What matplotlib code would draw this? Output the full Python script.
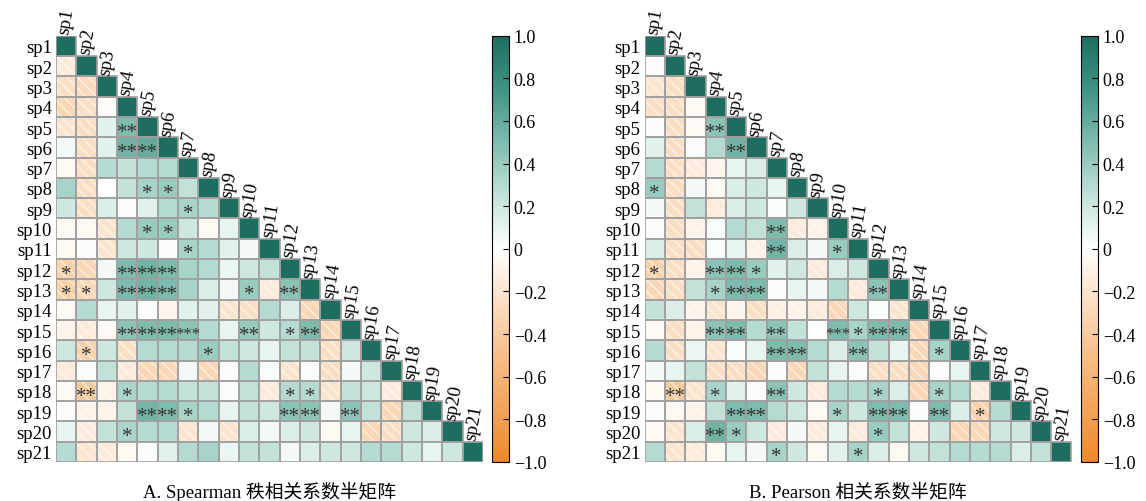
import numpy as np
import matplotlib.pyplot as plt
from matplotlib.colors import LinearSegmentedColormap, Normalize
from matplotlib.patches import Rectangle
from matplotlib.cm import ScalarMappable
from matplotlib.ticker import FuncFormatter

plt.rcParams['font.family'] = ['Liberation Serif', 'Noto Sans CJK SC']
plt.rcParams['hatch.linewidth'] = 1.0

species = ['sp%d' % i for i in range(1, 22)]

# lower triangle, row sp2..sp21, columns sp1..sp(i-1)
spearman_r = [
    [-0.15],
    [-0.25, -0.28],
    [-0.3, -0.25, -0.03],
    [-0.2, -0.25, 0.12, 0.5],
    [0.05, -0.25, 0.12, 0.55, 0.6],
    [-0.05, -0.25, 0.3, 0.25, 0.3, 0.3],
    [0.35, -0.25, 0.0, 0.25, 0.35, 0.4, 0.25],
    [0.2, -0.25, 0.15, 0.02, 0.12, 0.3, 0.35, 0.3],
    [-0.05, -0.05, -0.2, 0.3, 0.4, 0.4, 0.2, -0.05, 0.1],
    [-0.05, 0.02, -0.2, 0.2, 0.2, 0.02, 0.35, 0.3, 0.12, 0.05],
    [-0.35, -0.3, 0.05, 0.5, 0.55, 0.5, 0.35, 0.3, 0.08, 0.2, 0.25],
    [-0.35, -0.3, 0.2, 0.5, 0.55, 0.5, 0.35, 0.15, 0.05, 0.4, -0.15, 0.45],
    [-0.05, 0.3, 0.1, 0.12, 0.02, -0.08, 0.12, 0.12, -0.2, -0.25, 0.3, 0.15, -0.3],
    [-0.1, -0.15, -0.05, 0.45, 0.5, 0.5, 0.45, 0.3, 0.1, 0.4, 0.2, 0.3, 0.5, -0.3],
    [0.2, -0.35, 0.2, -0.25, 0.3, 0.3, 0.3, 0.4, 0.25, 0.2, 0.1, 0.25, 0.25, -0.25, 0.2],
    [-0.15, 0.03, 0.25, -0.15, -0.3, -0.3, 0.05, -0.3, 0.02, 0.3, 0.03, -0.2, 0.02, -0.25, 0.05, 0.2],
    [-0.05, -0.4, -0.1, 0.35, 0.3, 0.3, 0.25, 0.25, 0.02, 0.25, -0.15, 0.3, 0.3, -0.2, 0.25, 0.2, -0.15],
    [0.02, -0.1, -0.1, 0.25, 0.55, 0.5, 0.35, 0.3, 0.1, 0.25, 0.2, 0.45, 0.45, 0.05, 0.45, 0.25, -0.3, 0.25],
    [0.1, -0.15, 0.25, 0.35, 0.3, 0.3, -0.2, 0.05, -0.2, 0.15, 0.05, 0.15, 0.2, -0.05, 0.1, -0.3, -0.25, 0.2, 0.15],
    [0.3, -0.2, -0.15, -0.05, 0.02, 0.12, 0.3, 0.35, 0.08, 0.25, 0.25, 0.05, 0.15, 0.2, 0.2, 0.3, 0.3, 0.2, 0.1, 0.2],
]

# significance stars: (row, col, count), 1-based species numbers
spearman_sig = [
    (5, 4, 2), (6, 4, 2), (6, 5, 2), (8, 5, 1), (8, 6, 1), (9, 7, 1),
    (10, 5, 1), (10, 6, 1), (11, 7, 1),
    (12, 1, 1), (12, 4, 2), (12, 5, 2), (12, 6, 2),
    (13, 1, 1), (13, 2, 1), (13, 4, 2), (13, 5, 2), (13, 6, 2), (13, 10, 1), (13, 12, 2),
    (15, 4, 2), (15, 5, 2), (15, 6, 2), (15, 7, 3), (15, 10, 2), (15, 12, 1), (15, 13, 2),
    (16, 2, 1), (16, 8, 1),
    (18, 2, 2), (18, 4, 1), (18, 12, 1), (18, 13, 1),
    (19, 5, 2), (19, 6, 2), (19, 7, 1), (19, 12, 2), (19, 13, 2), (19, 15, 2),
    (20, 4, 1),
]

pearson_r = [
    [0.02],
    [-0.2, -0.25],
    [-0.25, -0.25, -0.05],
    [0.02, -0.25, -0.05, 0.45],
    [0.12, -0.25, 0.02, 0.3, 0.55],
    [0.3, -0.25, -0.15, -0.08, 0.1, 0.15],
    [0.4, -0.25, 0.05, -0.05, 0.15, 0.2, 0.1],
    [0.05, -0.25, 0.25, -0.15, 0.15, 0.2, 0.03, 0.2],
    [0.02, -0.25, -0.1, 0.03, 0.3, 0.25, 0.5, -0.15, -0.1],
    [0.15, -0.25, -0.25, 0.03, 0.1, -0.1, 0.55, 0.15, 0.05, 0.4],
    [-0.35, -0.25, -0.1, 0.45, 0.5, 0.4, 0.12, 0.2, -0.15, 0.15, 0.2],
    [-0.3, -0.25, 0.25, 0.35, 0.5, 0.5, 0.02, 0.1, 0.05, 0.3, -0.15, 0.45],
    [0.25, 0.15, -0.1, -0.2, -0.08, -0.25, -0.12, -0.1, -0.15, -0.3, 0.2, 0.03, -0.2],
    [-0.05, -0.25, -0.1, 0.45, 0.5, 0.3, 0.45, 0.25, 0.0, 0.5, 0.35, 0.5, 0.5, -0.3],
    [0.3, -0.25, 0.08, -0.2, 0.03, 0.1, 0.5, 0.5, 0.3, 0.15, 0.45, 0.25, 0.1, -0.3, 0.35],
    [0.05, 0.1, 0.25, -0.25, -0.25, -0.3, 0.02, -0.3, 0.25, 0.1, 0.02, -0.25, -0.25, -0.3, 0.02, 0.1],
    [-0.05, -0.4, -0.2, 0.35, 0.12, 0.02, 0.45, 0.2, -0.15, 0.3, 0.3, 0.35, 0.15, -0.3, 0.35, 0.3, -0.15],
    [0.02, -0.05, -0.1, 0.25, 0.5, 0.5, 0.3, 0.2, -0.05, 0.35, 0.2, 0.5, 0.5, 0.02, 0.5, 0.15, -0.35, 0.3],
    [-0.05, -0.2, 0.15, 0.55, 0.4, 0.2, -0.15, 0.05, -0.15, 0.1, -0.15, 0.4, 0.25, -0.1, 0.2, -0.3, -0.3, 0.2, 0.2],
    [0.3, -0.2, -0.15, -0.05, 0.1, 0.05, 0.35, 0.2, -0.05, 0.12, 0.35, 0.15, -0.05, 0.2, 0.25, 0.3, 0.3, 0.3, 0.15, 0.25],
]

pearson_sig = [
    (5, 4, 2), (6, 5, 2), (8, 1, 1), (10, 7, 2), (11, 7, 2), (11, 10, 1),
    (12, 1, 1), (12, 4, 2), (12, 5, 2), (12, 6, 1),
    (13, 4, 1), (13, 5, 2), (13, 6, 2), (13, 12, 2),
    (15, 4, 2), (15, 5, 2), (15, 7, 2), (15, 10, 3), (15, 11, 1), (15, 12, 2), (15, 13, 2),
    (16, 7, 2), (16, 8, 2), (16, 11, 2), (16, 15, 1),
    (18, 2, 2), (18, 4, 1), (18, 7, 2), (18, 12, 1), (18, 15, 1),
    (19, 5, 2), (19, 6, 2), (19, 10, 1), (19, 12, 2), (19, 13, 2), (19, 15, 2), (19, 17, 1),
    (20, 4, 2), (20, 5, 1), (20, 12, 1),
    (21, 7, 1), (21, 11, 1),
]

titles = ['A. Spearman 秩相关系数半矩阵', 'B. Pearson 相关系数半矩阵']

cmap = LinearSegmentedColormap.from_list('og', [
    (0.0, '#EE892C'), (0.25, '#F6BF88'), (0.5, '#FFFFFF'),
    (0.625, '#C2E2DA'), (0.75, '#7FBCAF'), (0.875, '#3F9483'), (1.0, '#1D6E5E')])
norm = Normalize(-1, 1)
grid_col = '#A0A0A0'


def draw_panel(ax, cax, rows, sig, title):
    n = len(species)
    ax.set_xlim(-0.5, n - 0.5)
    ax.set_ylim(n - 0.5, -0.5)
    cells = [(i, i, 1.0) for i in range(n)]
    for i, row in enumerate(rows, start=1):
        for j, v in enumerate(row):
            cells.append((i, j, v))
    for i, j, v in cells:
        ax.add_patch(Rectangle((j - 0.5, i - 0.5), 1, 1, facecolor=cmap(norm(v)),
                               edgecolor='none', zorder=1))
        if v < 0:
            ax.add_patch(Rectangle((j - 0.5, i - 0.5), 1, 1, fill=False, hatch='\\\\\\',
                                   edgecolor=(1, 1, 1, 0.55), linewidth=0, zorder=2))
        ax.add_patch(Rectangle((j - 0.5, i - 0.5), 1, 1, fill=False,
                               edgecolor=grid_col, linewidth=1.2, zorder=3))
    for r, c, k in sig:
        fs = 15 if k < 3 else 12
        ax.text(c - 1, r - 1 + (0.25 if k < 3 else 0.2), '*' * k, ha='center', va='center',
                fontsize=fs, color='#333333', zorder=4)
    for j in range(n):
        ax.text(j - 0.1, j - 0.6, species[j], rotation=80, rotation_mode='anchor',
                ha='left', va='center', fontsize=13.5, clip_on=False)
    ax.set_yticks(range(n))
    ax.set_yticklabels(species, fontsize=13.5)
    ax.set_xticks([])
    ax.tick_params(axis='y', length=0, pad=3)
    for s in ax.spines.values():
        s.set_visible(False)

    sm = ScalarMappable(norm=norm, cmap=cmap)
    cb = plt.colorbar(sm, cax=cax, ticks=np.linspace(-1, 1, 11))
    cb.ax.yaxis.set_major_formatter(FuncFormatter(
        lambda x, p: '0' if abs(x) < 1e-9 else ('%.1f' % x).replace('-', '\u2212')))
    cb.ax.tick_params(labelsize=13, direction='in', length=4, width=0.8)
    cb.outline.set_linewidth(0.8)


fig = plt.figure(figsize=(11.46, 5.02), dpi=100)
W, H = 1146, 502
for k, (rows, sig) in enumerate([(spearman_r, spearman_sig), (pearson_r, pearson_sig)]):
    x0 = 56 if k == 0 else 644.5
    cx = 492 if k == 0 else 1081
    ax = fig.add_axes([x0 / W, (H - 463) / H, 427 / W, 426.3 / H])
    cax = fig.add_axes([cx / W, (H - 463) / H, 17 / W, 426.3 / H])
    draw_panel(ax, cax, rows, sig, titles[k])
    fig.text((x0 + 213.5) / W, (H - 492) / H, titles[k], ha='center', va='center', fontsize=13.5)

fig.savefig('out.png', dpi=100)
